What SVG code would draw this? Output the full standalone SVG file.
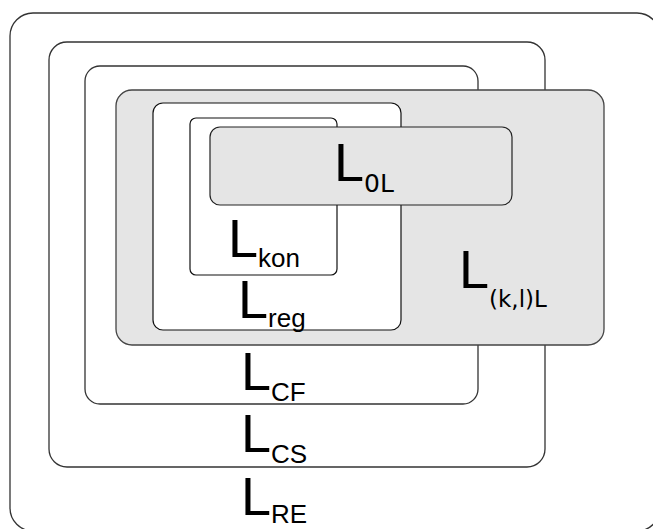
<svg xmlns="http://www.w3.org/2000/svg" width="653" height="529" viewBox="0 0 653 529">
<style>
.box{fill:#ffffff;stroke:#333333;stroke-width:1.3}
.gray{fill:#e5e5e5;stroke:#444444;stroke-width:1.3}
.inner{fill:#ffffff;stroke:#111111;stroke-width:1.2}
.innergray{fill:#e5e5e5;stroke:#222222;stroke-width:1.2}
.lbl{font-family:"Liberation Sans",Arial,sans-serif;font-size:54px;fill:#000000}
.sub{font-size:26px}
.subd{font-family:"DejaVu Sans","Liberation Sans",sans-serif;font-size:23px}
.subz{font-family:"DejaVu Sans","Liberation Sans",sans-serif;font-size:25px}
</style>
<rect width="653" height="529" fill="#ffffff"/>
<g id="L_RE">
<rect class="box" x="10" y="13" width="650" height="518" rx="23" ry="23"/>
<text class="lbl" x="241" y="515">L<tspan class="sub" dy="8">RE</tspan></text>
</g>
<g id="L_CS">
<rect class="box" x="49" y="42" width="496" height="425" rx="18" ry="18"/>
<text class="lbl" x="241" y="452">L<tspan class="sub" dy="11">CS</tspan></text>
</g>
<g id="L_CF">
<rect class="box" x="85" y="66" width="393" height="338" rx="15" ry="15"/>
<text class="lbl" x="241" y="390">L<tspan class="sub" dy="11">CF</tspan></text>
</g>
<g id="L_klL">
<rect class="gray" x="116" y="90" width="488" height="255" rx="16" ry="16"/>
<text class="lbl" x="459" y="288">L<tspan class="subd" dy="19">(k,l)L</tspan></text>
</g>
<g id="L_reg">
<rect class="inner" x="153" y="103" width="248" height="227" rx="10" ry="10"/>
<text class="lbl" x="238" y="318">L<tspan class="sub" dy="9">reg</tspan></text>
</g>
<g id="L_kon">
<rect class="inner" x="190" y="118" width="147" height="157" rx="6" ry="6"/>
<text class="lbl" x="228" y="257">L<tspan class="sub" dy="10">kon</tspan></text>
</g>
<g id="L_0L">
<rect class="innergray" x="210" y="127" width="302" height="78" rx="10" ry="10"/>
<text class="lbl" x="334" y="181">L<tspan class="subz" dy="11">0L</tspan></text>
</g>
<g id="connectors"/>
</svg>
